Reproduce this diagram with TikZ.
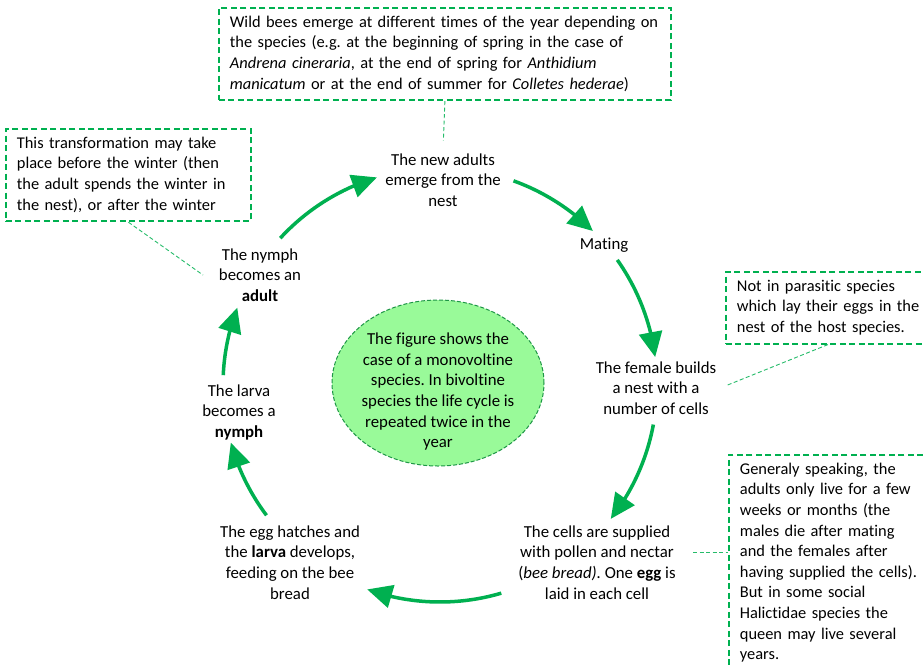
\documentclass[tikz,border=0pt]{standalone}
\usepackage{fontspec}
\setmainfont{Carlito}[Ligatures=CommonOff]
\usetikzlibrary{arrows.meta,shapes.geometric,calc,bending}
\definecolor{bgreen}{RGB}{0,176,80}
\definecolor{lgreen}{RGB}{153,250,153}
\definecolor{dgreen}{RGB}{30,150,70}
\frenchspacing
\tikzset{
 txt/.style={font=\fontsize{16.8}{20.6}\selectfont\frenchspacing, text=black},
 notetxt/.style={font=\fontsize{16.4}{20.6}\selectfont\frenchspacing, text=black},
 note/.style={notetxt, draw=bgreen, line width=1.8pt, dash pattern=on 6pt off 3.5pt, anchor=north west, align=left, inner xsep=11pt, inner ysep=5pt},
 stage/.style={txt, align=center, inner sep=0pt},
 cyc/.style={draw=bgreen, line width=3.5pt, -{Triangle[length=25pt,width=23pt]}},
 conn/.style={draw=bgreen!85, line width=0.9pt, dash pattern=on 4pt off 2.5pt},
 bubble/.style={ellipse, draw=dgreen, line width=1pt, dash pattern=on 4pt off 2pt, fill=lgreen, minimum width=212pt, minimum height=166pt, inner sep=0pt},
}
\begin{document}
\begin{tikzpicture}[x=1pt,y=-1pt]
\useasboundingbox (0,0) rectangle (923,665);
\clip (0,0) rectangle (923,665);
\fill[white] (0,0) rectangle (923,665);

% notes
\node[note, text width=430pt] (topbox) at (218,7) {\strut Wild bees emerge at different times of the year depending on\\ the species (e.g. at the beginning of spring in the case of\\ \textit{Andrena cineraria}, at the end of spring for \textit{Anthidium}\\ \textit{manicatum} or at the end of summer for \textit{Colletes hederae})\strut};
\node[note, text width=223pt] (leftbox) at (5,128) {\strut This transformation may take\\ place before the winter (then\\ the adult spends the winter in\\ the nest), or after the winter\strut};
\node[note, text width=182pt] (rbox1) at (725,271) {\strut Not in parasitic species\\ \mbox{which lay their eggs in the}\\ nest of the host species.\strut};
\node[note, text width=200pt] (rbox2) at (728,454) {\strut Generaly speaking, the\\ adults only live for a few\\ weeks or months (the\\ males die after mating\\ and the females after\\ \mbox{having supplied the cells).}\\ But in some social\\ Halictidae species the\\ queen may live several\\ years.\strut};

% centre bubble
\node[bubble] (ell) at (438,383) {};
\node[stage] (elltext) at (438,392) {\strut The figure shows the\\ case of a monovoltine\\ species. In bivoltine\\ species the life cycle is\\ repeated twice in the\\ year\strut};

% stages
\node[stage] (adults) at (443,181.5) {\strut The new adults\\ emerge from the\\ nest\strut};
\node[stage] (mating) at (604,245) {\strut Mating\strut};
\node[stage] (female) at (656,389.5) {\strut The female builds\\ a nest with a\\ number of cells\strut};
\node[stage] (cells) at (597,564) {\strut The cells are supplied\\ with pollen and nectar\\ (\textit{bee bread).} One \textbf{egg} is\\ laid in each cell\strut};
\node[stage] (egg) at (290,564) {\strut The egg hatches and\\ the \textbf{larva} develops,\\ feeding on the bee\\ bread\strut};
\node[stage] (larva) at (239,412.5) {\strut The larva\\ becomes a\\ \textbf{nymph}\strut};
\node[stage] (nymph) at (260,276.5) {\strut The nymph\\ becomes an\\ \textbf{adult}\strut};

% cycle arrows
\coordinate (c) at (440,385);
\foreach \s/\e [count=\i] in {-137.4/-106.9, -70.2/-45.2, -35.2/-7.4, 10.5/38.1, 73.6/109.6, 143.1/164.6, 182.6/200.9}{
  \coordinate (a\i) at ($(c)+(\s:217)$);
  \draw[cyc] (a\i) arc[start angle=\s, end angle=\e, radius=217];
}

% note connectors
\draw[conn, shorten >=10pt] (topbox.south) -- (adults.north);
\coordinate (lp) at (203,275);
\draw[conn] (leftbox.south) -- (lp);
\draw[conn, shorten >=12pt] (rbox1.south) -- (female.east);
\coordinate (rp) at (693,552);
\draw[conn] (rp) -- (rp -| rbox2.west);
\end{tikzpicture}
\end{document}
